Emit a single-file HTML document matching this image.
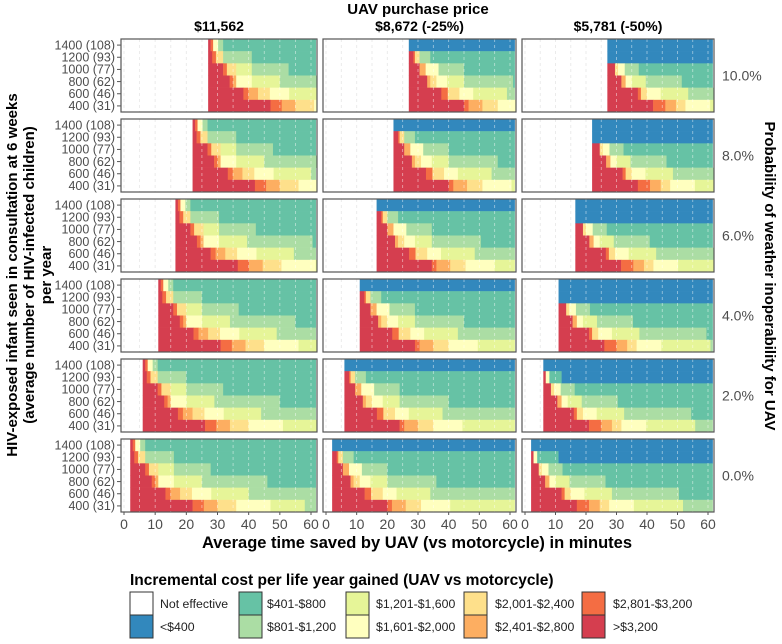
<!DOCTYPE html>
<html><head><meta charset="utf-8"><style>
html,body{margin:0;padding:0;background:#fff}
svg{display:block;font-family:"Liberation Sans",Arial,sans-serif}
</style></head><body>
<svg id="chart" width="782" height="644" viewBox="0 0 782 644" xmlns="http://www.w3.org/2000/svg">
<text x="418" y="14" text-anchor="middle" font-size="15" font-weight="bold" fill="#000">UAV purchase price</text>
<text x="417" y="548" text-anchor="middle" font-size="16.5" font-weight="bold" fill="#000">Average time saved by UAV (vs motorcycle) in minutes</text>
<g transform="translate(12,275) rotate(-90)">
<text x="0" y="5" text-anchor="middle" font-size="15" font-weight="bold">HIV-exposed infant seen in consultation at 6 weeks</text>
<text x="0" y="22" text-anchor="middle" font-size="15" font-weight="bold">(average number of HIV-infected children)</text>
<text x="0" y="39" text-anchor="middle" font-size="15" font-weight="bold">per year</text>
</g>
<text transform="translate(765,276) rotate(90)" text-anchor="middle" font-size="15" font-weight="bold">Probability of weather inoperability for UAV</text>
<text x="130" y="585" font-size="15.5" font-weight="bold">Incremental cost per life year gained (UAV vs motorcycle)</text>
<g id="panels"></g>
<g id="legend"></g>
</svg>
<script>
const weatherLabels = ['10.0%','8.0%','6.0%','4.0%','2.0%','0.0%'];
const priceLabels = ['$11,562','$8,672 (-25%)','$5,781 (-50%)'];
const rowLabels = ['1400 (108)','1200 (93)','1000 (77)','800 (62)','600 (46)','400 (31)'];
const xTicks = [0,10,20,30,40,50,60];
// minute at which UAV becomes effective, per weather-inoperability row
const startMinute = [27,22,16.5,11,6,2];
// col 3, row 1200: relative minute at which cost drops below $400
const blue1200Col3 = [0,0,0,0,6,9];
// run templates: "relativeStart:category" (0 none,1 <400,2 401-800 ... 9 >3200)
const runsPrice1 = [
 "0:9 0.8:8 1.6:5 3.2:3 4.8:2",
 "0:9 1.3:8 2.5:6 4.8:3 14:2",
 "0:9 4.8:8 6:6 9:4 14:3 25.8:2",
 "0:9 6.9:8 8:7 9:5 14:4 23:3 44:2",
 "0:9 11.3:8 12.9:7 16:6 19.8:5 26:4 38:3",
 "0:9 20:8 23.6:7 28:6 34:5 45:4 56:3"
];
const runsPrice2 = [
 "0:1",
 "0:9 1.5:8 2:6 3.5:3 7:2",
 "0:9 3.5:7 5.5:5 9.7:3 18:2",
 "0:9 6:7 7:6 9:5 12.5:4 18:3 34:2",
 "0:9 10.6:8 12.7:6 16.5:5 21:4 32:3",
 "0:9 18:8 19.5:7 24:6 29:5 38.5:4"
];
const runsPrice3 = [
 "0:1",
 "0:9 0.8:5 2:2",
 "0:9 2.5:6 3.5:5 5.7:3 10.3:2",
 "0:9 4.6:7 6:5 8:4 12.6:3 24.4:2",
 "0:9 10:8 11:6 13:5 17.5:4 26.5:3 48.5:2",
 "0:9 15:8 19:7 22.5:6 25.6:5 33.7:4 49.8:3"
];
const runTemplates = [runsPrice1, runsPrice2, runsPrice3];
const colors = ['#ffffff','#3288bd','#66c2a5','#abdda4','#e6f598','#ffffbf','#fee08b','#fdae61','#f46d43','#d53e4f'];
const legendLabels = ['Not effective','<$400','$401-$800','$801-$1,200','$1,201-$1,600','$1,601-$2,000','$2,001-$2,400','$2,401-$2,800','$2,801-$3,200','>$3,200'];

const NS='http://www.w3.org/2000/svg';
function mk(tag,attrs,parent){const e=document.createElementNS(NS,tag);for(const k in attrs)e.setAttribute(k,attrs[k]);parent.appendChild(e);return e;}
const colL=[121,323,522], colR=[317,516,714];
const panelTop=[39,119,199,279,359,439], panelH=73;
const root=document.getElementById('panels');

priceLabels.forEach((p,c)=>{
  const t=mk('text',{x:(colL[c]+colR[c])/2,y:31,'text-anchor':'middle','font-size':14,'font-weight':'bold'},root);
  t.textContent=p;
  
  
});

for(let w=0;w<6;w++){
  const wt=mk('text',{x:722,y:panelTop[w]+panelH/2+5,'font-size':14,fill:'#4d4d4d'},root);
  wt.textContent=weatherLabels[w];
  
  
  for(let c=0;c<3;c++){
    const L=colL[c],R=colR[c],T=panelTop[w];
    const x0=L+3, sc=(R-L-9)/60;
    const X=m=>x0+m*sc;
    const rh=panelH/6;
    const g=mk('g',{},root);
    
    
    const cid='clip'+w+'_'+c;
    const cp=mk('clipPath',{id:cid},g); mk('rect',{x:L,y:T,width:R-L,height:panelH},cp);
    const inner=mk('g',{'clip-path':'url(#'+cid+')'},g);
    for(let m=0;m<=60;m+=5) mk('line',{x1:X(m),x2:X(m),y1:T,y2:T+panelH,stroke:'#d4d4d4','stroke-dasharray':'3,3','stroke-width':0.8},inner);
    const s=startMinute[w];
    for(let r=0;r<6;r++){
      const runs=runTemplates[c][r].split(' ').map(q=>q.split(':').map(Number));
      let segs=[];
      runs.forEach((q,i)=>{
        const a=s+q[0], b=i<runs.length-1?s+runs[i+1][0]:61.5;
        segs.push([a,b,q[1]]);
      });
      if(c===2&&r===1){
        const bs=s+blue1200Col3[w];
        segs=segs.filter(sg=>sg[0]<bs).map(sg=>[sg[0],Math.min(sg[1],bs),sg[2]]);
        segs.push([bs,61.5,1]);
      }
      segs.forEach(sg=>{
        if(sg[1]<=sg[0]||sg[2]===0)return;
        const rc=mk('rect',{x:X(sg[0]),y:T+r*rh,width:(sg[1]-sg[0])*sc+0.3,height:rh+0.3,fill:colors[sg[2]]},inner);
        
        
      });
    }
    for(let m=0;m<=60;m+=5) mk('line',{x1:X(m),x2:X(m),y1:T,y2:T+panelH,stroke:'#ffffff','stroke-opacity':0.55,'stroke-dasharray':'3,3','stroke-width':0.8},inner);
    const b=mk('rect',{x:L,y:T,width:R-L,height:panelH,fill:'none',stroke:'#555','stroke-width':1.2},g);
    
    
    if(c===0){
      rowLabels.forEach((lab,r)=>{
        const cy=T+r*rh+rh/2;
        mk('line',{x1:L-4,x2:L,y1:cy,y2:cy,stroke:'#555'},g);
        const tx=mk('text',{x:L-6,y:cy+4.3,'text-anchor':'end','font-size':12.5,fill:'#4d4d4d'},g);
        tx.textContent=lab;
        
        
      });
    }
    if(w===5){
      xTicks.forEach(v=>{
        mk('line',{x1:X(v),x2:X(v),y1:T+panelH,y2:T+panelH+3,stroke:'#555'},g);
        const tx=mk('text',{x:X(v),y:T+panelH+17,'text-anchor':'middle','font-size':14,fill:'#4d4d4d'},g);
        tx.textContent=v;
        
        
      });
    }
  }
}

const lg=document.getElementById('legend');
const keyX=[130,239,346,464,582], labX=[160,267,376,495,613];
legendLabels.forEach((lab,i)=>{
  const col=Math.floor(i/2), row=i%2;
  const y=592+row*23;
  const k=mk('rect',{x:keyX[col],y:y,width:23,height:23,fill:colors[i],stroke:'#333','stroke-width':1},lg);
  
  
  const t=mk('text',{x:labX[col],y:y+16,'font-size':12.3,fill:'#222'},lg);
  t.textContent=lab;
  
  
});
</script>
</body></html>
